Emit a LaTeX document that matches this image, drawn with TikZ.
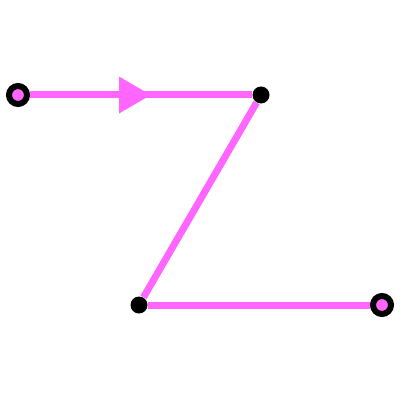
\documentclass[tikz,border=0pt]{standalone}
\usetikzlibrary{positioning,arrows.meta,decorations.markings}
\definecolor{wirepink}{RGB}{255,102,255}
\tikzset{
  wire/.style={wirepink,line width=0.175cm},
  endpt/.style={circle,draw=black,fill=wirepink,line width=0.15cm,inner sep=0pt,minimum size=0.45cm},
  joint/.style={circle,fill=black,inner sep=0pt,minimum size=0.425cm},
  midarrow/.style={postaction={decorate,decoration={markings,
      mark=at position 0.545 with {\arrow{Triangle[length=0.8cm,width=0.87cm]}}}}}
}

\begin{document}
\begin{tikzpicture}[x=0.025cm,y=-0.025cm]
\useasboundingbox (0,0) rectangle (400,400);
% Corners of the path
\node[joint] (top) at (261,95) {};
\node[joint] (bot) at (139,305) {};
% Open ends
\node[endpt] (start) at (18,95) {};
\node[endpt] (stop) at (382,305) {};
% The wire, with its direction on the first leg
\draw[wire,midarrow] (start) -- (top);
\draw[wire] (top) -- (bot);
\draw[wire] (bot) -- (stop);
\end{tikzpicture}
\end{document}
